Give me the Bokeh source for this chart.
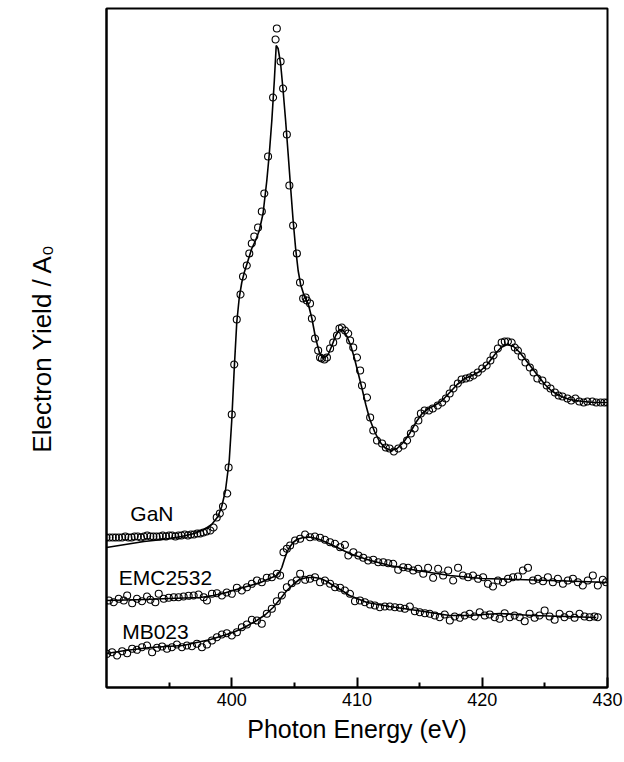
from bokeh.plotting import figure
from bokeh.models import FixedTicker, Range1d, Label
from bokeh.embed import file_html
from bokeh.resources import INLINE

# ---------------- data (photon energy in eV, electron yield in arbitrary offset units) ----------------
gan_e = [390.0, 390.25, 390.5, 390.75, 391.0, 391.25, 391.5, 391.75, 392.0, 392.25, 392.5, 392.75,
         393.0, 393.25, 393.5, 393.75, 394.0, 394.25, 394.5, 394.75, 395.0, 395.25, 395.5, 395.75,
         396.0, 396.25, 396.5, 396.75, 397.0, 397.25, 397.5, 397.75, 398.0, 398.3, 398.55, 398.8,
         399.05, 399.3, 399.64, 399.75, 400.0, 400.2, 400.4, 400.7, 400.9, 401.2, 401.4, 401.6,
         401.8, 402.1, 402.4, 402.6, 402.9, 403.3, 403.5, 403.6, 403.9, 404.1, 404.4, 404.6,
         404.9, 405.2, 405.45, 405.7, 405.9, 406.0, 406.25, 406.4, 406.65, 406.9, 407.05, 407.2,
         407.4, 407.6, 407.85, 408.1, 408.4, 408.6, 408.8, 409.05, 409.3, 409.45, 409.7, 410.0,
         410.25, 410.4, 410.8, 411.05, 411.3, 411.6, 412.0, 412.3, 412.6, 412.95, 413.3, 413.7,
         414.0, 414.3, 414.6, 414.9, 415.1, 415.4, 415.75, 416.05, 416.45, 416.8, 417.1, 417.4,
         417.7, 418.05, 418.35, 418.7, 419.0, 419.3, 419.65, 420.0, 420.35, 420.65, 420.9, 421.25,
         421.55, 421.8, 422.05, 422.35, 422.6, 422.85, 423.15, 423.45, 423.8, 424.1, 424.4, 424.8,
         425.15, 425.45, 425.8, 426.1, 426.4, 426.8, 427.1, 427.45, 427.75, 428.1, 428.4, 428.8,
         429.1, 429.45, 429.75, 430.0]
gan_y = [1.50, 1.50, 1.50, 1.50, 1.50, 1.50, 1.51, 1.50, 1.50, 1.51, 1.51, 1.50,
         1.51, 1.52, 1.51, 1.51, 1.51, 1.51, 1.52, 1.51, 1.52, 1.52, 1.51, 1.52,
         1.52, 1.53, 1.52, 1.53, 1.53, 1.54, 1.54, 1.55, 1.56, 1.57, 1.60, 1.70,
         1.74, 1.81, 1.94, 2.20, 2.73, 3.23, 3.68, 3.93, 4.11, 4.22, 4.34, 4.44,
         4.51, 4.60, 4.76, 4.94, 5.31, 5.90, 6.48, 6.59, 6.26, 5.99, 5.53, 5.02,
         4.62, 4.34, 4.05, 3.89, 3.90, 3.87, 3.84, 3.69, 3.49, 3.37, 3.30, 3.29,
         3.28, 3.30, 3.39, 3.45, 3.52, 3.59, 3.60, 3.57, 3.54, 3.47, 3.40, 3.30,
         3.17, 3.02, 2.90, 2.70, 2.57, 2.47, 2.44, 2.40, 2.39, 2.36, 2.39, 2.42,
         2.47, 2.54, 2.59, 2.67, 2.74, 2.77, 2.77, 2.79, 2.82, 2.85, 2.89, 2.94,
         2.99, 3.04, 3.08, 3.09, 3.10, 3.12, 3.15, 3.19, 3.22, 3.27, 3.32, 3.39,
         3.45, 3.46, 3.46, 3.45, 3.40, 3.37, 3.31, 3.25, 3.20, 3.15, 3.09, 3.07,
         3.02, 2.99, 2.95, 2.92, 2.91, 2.89, 2.87, 2.89, 2.86, 2.85, 2.86, 2.86,
         2.85, 2.85, 2.85, 2.85]

gan_fit_e = [390.0, 391.5, 393.0, 394.5, 396.0, 397.0, 397.8, 398.4, 398.9, 399.2, 399.5, 399.8,
             400.0, 400.2, 400.4, 400.6, 400.8, 401.0, 401.3, 401.6, 401.9, 402.2, 402.5, 402.8,
             403.0, 403.2, 403.4, 403.55, 403.7, 403.9, 404.1, 404.3, 404.5, 404.7, 404.9, 405.1,
             405.3, 405.5, 405.8, 406.1, 406.4, 406.7, 407.0, 407.3, 407.7, 408.0, 408.3, 408.6,
             408.9, 409.2, 409.5, 409.8, 410.1, 410.4, 410.7, 411.0, 411.4, 411.8, 412.2, 412.7,
             413.2, 413.7, 414.2, 414.7, 415.2, 415.7, 416.2, 416.8, 417.4, 418.0, 418.6, 419.2,
             419.8, 420.4, 421.0, 421.5, 422.0, 422.5, 423.0, 423.5, 424.0, 424.5, 425.0, 425.5,
             426.0, 426.5, 427.0, 428.0, 429.0, 430.0]
gan_fit_y = [1.40, 1.43, 1.46, 1.48, 1.51, 1.54, 1.58, 1.63, 1.71, 1.81, 1.97, 2.27,
             2.67, 3.19, 3.65, 3.90, 4.05, 4.15, 4.27, 4.39, 4.47, 4.57, 4.74, 5.07,
             5.34, 5.67, 6.07, 6.42, 6.39, 6.24, 5.97, 5.67, 5.34, 5.00, 4.67, 4.39,
             4.17, 4.03, 3.91, 3.84, 3.69, 3.49, 3.35, 3.29, 3.33, 3.42, 3.52, 3.58,
             3.57, 3.51, 3.42, 3.29, 3.14, 2.99, 2.83, 2.69, 2.56, 2.46, 2.40, 2.37,
             2.39, 2.45, 2.54, 2.65, 2.74, 2.79, 2.82, 2.87, 2.95, 3.03, 3.09, 3.12,
             3.16, 3.23, 3.33, 3.40, 3.43, 3.41, 3.35, 3.27, 3.19, 3.11, 3.03, 2.97,
             2.93, 2.90, 2.88, 2.86, 2.85, 2.85]

emc_e = [390.19, 390.58, 390.98, 391.38, 391.65, 392.05, 392.44, 392.84, 393.24, 393.51, 393.90,
         394.17, 394.57, 394.97, 395.37, 395.76, 396.16, 396.56, 396.96, 397.36, 397.76, 398.02,
         398.42, 398.82, 399.22, 399.61, 400.01, 400.41, 400.81, 401.21, 401.61, 402.01, 402.40,
         402.80, 403.20, 403.60, 403.86, 404.13, 404.40, 404.66, 405.06, 405.46, 405.86, 406.25,
         406.65, 407.05, 407.45, 407.85, 408.25, 408.65, 409.04, 409.31, 409.71, 410.11, 410.50,
         410.90, 411.30, 411.70, 412.10, 412.50, 412.89, 413.29, 413.69, 414.09, 414.49, 414.89,
         415.29, 415.68, 416.08, 416.48, 416.88, 417.28, 417.68, 418.07, 418.47, 418.87, 419.27,
         419.67, 420.07, 420.46, 420.86, 421.26, 421.66, 422.06, 422.46, 422.85, 423.25, 423.65,
         424.05, 424.45, 424.85, 425.24, 425.64, 426.04, 426.44, 426.84, 427.24, 427.64, 428.03,
         428.43, 428.83, 429.23, 429.63, 429.89]
emc_y = [0.870, 0.853, 0.887, 0.870, 0.920, 0.843, 0.887, 0.863, 0.910, 0.877, 0.853,
         0.937, 0.887, 0.897, 0.903, 0.903, 0.910, 0.917, 0.920, 0.930, 0.903, 0.870,
         0.937, 0.943, 0.920, 0.950, 0.937, 0.997, 0.970, 1.003, 1.037, 1.070, 1.053,
         1.097, 1.103, 1.137, 1.120, 1.353, 1.387, 1.420, 1.470, 1.487, 1.530, 1.503,
         1.510, 1.497, 1.477, 1.453, 1.437, 1.403, 1.427, 1.320, 1.353, 1.320, 1.297,
         1.270, 1.277, 1.253, 1.253, 1.243, 1.237, 1.177, 1.203, 1.197, 1.170, 1.187,
         1.137, 1.197, 1.097, 1.187, 1.120, 1.170, 1.070, 1.197, 1.120, 1.103, 1.120,
         1.087, 1.103, 1.037, 1.010, 1.070, 1.053, 1.087, 1.103, 1.110, 1.170, 1.197,
         1.070, 1.087, 1.063, 1.103, 1.053, 1.087, 1.037, 1.070, 1.087, 1.053, 1.020,
         1.070, 1.120, 1.020, 1.077, 1.053]

emc_fit_e = [390.0, 391.5, 393.0, 395.0, 397.5, 398.5, 399.3, 400.1, 401.2, 402.3, 403.0, 403.6,
             403.8, 404.0, 404.2, 404.4, 404.6, 404.9, 405.2, 405.7, 406.2, 406.8, 407.4, 408.1,
             409.4, 410.8, 412.6, 414.8, 417.4, 420.0, 422.8, 425.4, 428.0, 430.0]
emc_fit_y = [0.87, 0.875, 0.88, 0.89, 0.90, 0.92, 0.94, 0.97, 1.01, 1.05, 1.09, 1.12,
             1.15, 1.20, 1.28, 1.35, 1.40, 1.45, 1.48, 1.50, 1.505, 1.49, 1.46, 1.42,
             1.34, 1.28, 1.22, 1.17, 1.12, 1.09, 1.08, 1.07, 1.06, 1.05]

mb_e = [390.05, 390.45, 390.85, 391.25, 391.65, 392.05, 392.44, 392.84, 393.24, 393.64, 394.04,
        394.44, 394.83, 395.23, 395.63, 396.03, 396.43, 396.83, 397.22, 397.62, 398.02, 398.42,
        398.82, 399.22, 399.61, 400.01, 400.41, 400.81, 401.21, 401.61, 402.01, 402.40, 402.80,
        403.20, 403.60, 404.00, 404.40, 404.79, 405.19, 405.46, 405.86, 406.25, 406.65, 407.05,
        407.45, 407.85, 408.25, 408.65, 409.04, 409.44, 409.84, 410.24, 410.64, 411.04, 411.43,
        411.83, 412.23, 412.63, 413.03, 413.43, 413.82, 414.22, 414.62, 415.02, 415.42, 415.82,
        416.22, 416.61, 417.01, 417.41, 417.81, 418.21, 418.61, 419.00, 419.40, 419.80, 420.20,
        420.60, 421.00, 421.39, 421.79, 422.19, 422.59, 422.99, 423.39, 423.78, 424.18, 424.58,
        424.98, 425.38, 425.78, 426.18, 426.57, 426.97, 427.37, 427.77, 428.17, 428.57, 428.96,
        429.23]
mb_y = [0.337, 0.353, 0.320, 0.363, 0.343, 0.387, 0.377, 0.403, 0.420, 0.353, 0.397,
        0.410, 0.387, 0.403, 0.430, 0.403, 0.420, 0.413, 0.437, 0.403, 0.430, 0.470,
        0.503, 0.530, 0.543, 0.520, 0.553, 0.603, 0.630, 0.677, 0.670, 0.637, 0.737,
        0.787, 0.863, 0.920, 1.003, 1.043, 1.070, 1.137, 1.077, 1.087, 1.103, 1.053,
        1.070, 1.037, 1.003, 0.997, 0.970, 0.937, 0.863, 0.870, 0.853, 0.830, 0.820,
        0.803, 0.810, 0.810, 0.803, 0.797, 0.787, 0.810, 0.763, 0.753, 0.743, 0.737,
        0.720, 0.703, 0.730, 0.670, 0.710, 0.697, 0.720, 0.737, 0.710, 0.753, 0.720,
        0.730, 0.703, 0.687, 0.743, 0.703, 0.720, 0.703, 0.663, 0.737, 0.697, 0.720,
        0.770, 0.710, 0.677, 0.737, 0.703, 0.727, 0.697, 0.737, 0.710, 0.703, 0.710,
        0.703]

mb_fit_e = [390.0, 391.5, 393.5, 396.1, 398.3, 400.1, 401.0, 402.0, 402.7, 403.3, 403.9, 404.4,
            404.9, 405.4, 406.0, 406.6, 407.1, 407.6, 408.1, 408.8, 409.4, 410.8, 412.6, 414.8,
            417.4, 418.8, 421.4, 424.0, 426.7, 429.1]
mb_fit_y = [0.34, 0.37, 0.40, 0.42, 0.48, 0.55, 0.60, 0.67, 0.73, 0.80, 0.89, 0.97,
            1.03, 1.08, 1.10, 1.10, 1.09, 1.06, 1.02, 0.97, 0.92, 0.85, 0.81, 0.77,
            0.72, 0.72, 0.74, 0.72, 0.71, 0.70]

x_ticks = [400, 410, 420, 430]
x_minor_ticks = [395, 405, 415, 425]

series_labels = ["GaN", "EMC2532", "MB023"]
label_e = [391.9, 390.98, 391.25]
label_y = [1.74, 1.10, 0.56]

FONT = "Liberation Sans"

p = figure(width=624, height=762, x_range=Range1d(390, 430), y_range=Range1d(0, 6.79),
           output_backend="svg", toolbar_location=None,
           min_border_left=106, min_border_right=17, min_border_top=8, min_border_bottom=75)
p.grid.visible = False
p.outline_line_color = "black"
p.outline_line_width = 2
p.background_fill_color = "white"
p.border_fill_color = "white"

# x axis
p.xaxis.ticker = FixedTicker(ticks=x_ticks, minor_ticks=x_minor_ticks)
p.xaxis.axis_label = "Photon Energy (eV)"
p.xaxis.axis_label_text_font = FONT
p.xaxis.axis_label_text_font_size = "25px"
p.xaxis.axis_label_text_font_style = "normal"
p.xaxis.axis_label_standoff = 6
p.xaxis.major_label_text_font = FONT
p.xaxis.major_label_text_font_size = "18px"
p.xaxis.major_label_standoff = 5
p.xaxis.major_tick_in = 10
p.xaxis.major_tick_out = 0
p.xaxis.minor_tick_in = 5
p.xaxis.minor_tick_out = 0
p.xaxis.major_tick_line_width = 2
p.xaxis.minor_tick_line_width = 2
p.xaxis.axis_line_width = 2
p.xaxis.axis_label_text_color = "black"
p.xaxis.major_label_text_color = "black"

# y axis (no ticks)
p.yaxis.ticker = FixedTicker(ticks=[])
p.yaxis.axis_label = "Electron Yield / A₀"
p.yaxis.axis_label_text_font = FONT
p.yaxis.axis_label_text_font_size = "26px"
p.yaxis.axis_label_text_font_style = "normal"
p.yaxis.axis_label_standoff = 50
p.yaxis.major_tick_line_color = None
p.yaxis.minor_tick_line_color = None
p.yaxis.major_label_text_font_size = "0px"
p.yaxis.axis_line_width = 2
p.yaxis.axis_label_text_color = "black"

# fits
for fe, fy in [(gan_fit_e, gan_fit_y), (emc_fit_e, emc_fit_y), (mb_fit_e, mb_fit_y)]:
    p.line(fe, fy, line_color="black", line_width=1.6)

# data points
for de, dy in [(gan_e, gan_y), (emc_e, emc_y), (mb_e, mb_y)]:
    p.scatter(de, dy, marker="circle", size=7, fill_color=None, line_color="black", line_width=1.1)

for name, lx, ly in zip(series_labels, label_e, label_y):
    p.add_layout(Label(x=lx, y=ly, text=name, text_font=FONT, text_font_size="21px",
                       text_baseline="alphabetic", text_align="left", text_color="black"))

open("out.html", "w").write(file_html(p, INLINE))
